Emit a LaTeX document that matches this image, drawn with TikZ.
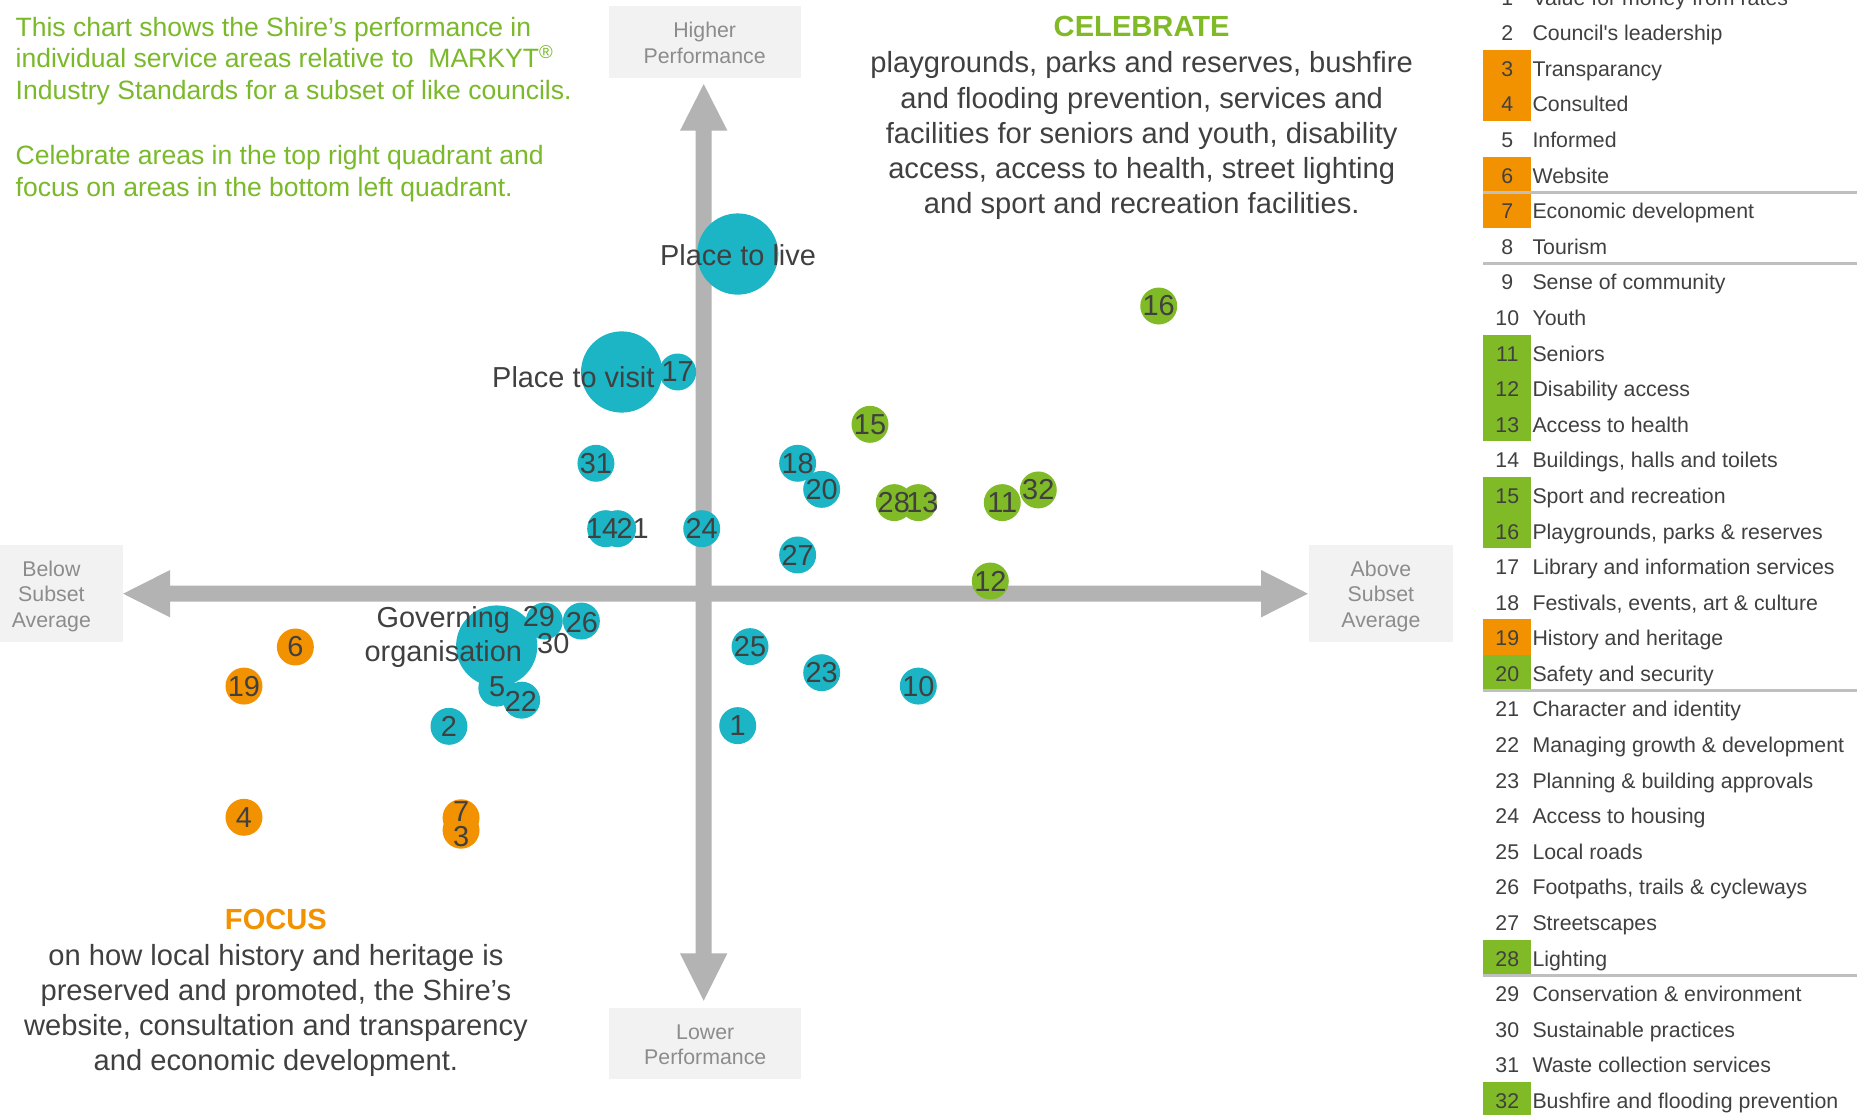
\documentclass[tikz,border=0pt]{standalone}
\usepackage{fontspec}
\setmainfont{Liberation Sans}
\newfontfamily\legfont[Ligatures=TeXOff]{Liberation Sans}
\definecolor{bteal}{RGB}{27,181,197}
\definecolor{bgreen}{RGB}{128,186,39}
\definecolor{borange}{RGB}{243,146,0}
\definecolor{introgreen}{RGB}{122,185,41}
\definecolor{axisgray}{RGB}{179,179,179}
\definecolor{boxfill}{RGB}{242,242,242}
\definecolor{boxtext}{RGB}{140,140,140}
\definecolor{dtext}{RGB}{64,64,64}
\definecolor{sepgray}{RGB}{191,191,191}
\tikzset{
  bub/.style={circle, inner sep=0pt, minimum size=15.6pt, draw=none},
  bigbub/.style={circle, inner sep=0pt, minimum size=34.3pt, fill=bteal, draw=none},
  numlbl/.style={inner sep=0pt, text=dtext, font=\fontsize{12.2}{14.6}\selectfont},
  bigl/.style={inner sep=0pt, text=dtext, font=\fontsize{12.2}{14.6}\selectfont, anchor=base},
  intro/.style={inner sep=0pt, text=introgreen, font=\fontsize{11.2}{13.5}\selectfont, anchor=base west},
  headtxt/.style={inner sep=0pt, font=\bfseries\fontsize{12.3}{14.7}\selectfont, anchor=base},
  bodytxt/.style={inner sep=0pt, text=dtext, font=\fontsize{12.3}{14.7}\selectfont, anchor=base},
  axbox/.style={fill=boxfill, draw=none, inner sep=0pt},
  axlbl/.style={inner sep=0pt, text=boxtext, font=\fontsize{9}{10.8}\selectfont, anchor=base},
  legnum/.style={inner sep=0pt, text=dtext, font=\legfont\fontsize{9}{10.8}\selectfont, anchor=base},
  legtxt/.style={inner sep=0pt, text=dtext, font=\legfont\fontsize{9}{10.8}\selectfont, anchor=base west},
  sepline/.style={draw=sepgray, line width=1.1pt},
}
\begin{document}
\begin{tikzpicture}[x=0.5pt,y=-0.5pt]
\useasboundingbox (0,0) rectangle (1568,941);
\begin{scope}
\clip (0,0) rectangle (1568,941);
\fill[white] (0,0) rectangle (1568,941);

% axes
\fill[axisgray] (104,501.3) -- (143.6,481.3) -- (143.6,494.55) -- (1064.8,494.55) -- (1064.8,481.3) -- (1104.3,501.3) -- (1064.8,521.3) -- (1064.8,508.05) -- (143.6,508.05) -- (143.6,521.3) -- cycle;
\fill[axisgray] (594.2,71) -- (614.2,110.3) -- (600.95,110.3) -- (600.95,805) -- (614.2,805) -- (594.2,845) -- (574.2,805) -- (587.45,805) -- (587.45,110.3) -- (574.2,110.3) -- cycle;

% axis label boxes
\node[axbox, minimum width=81pt, minimum height=30.25pt] (hibox) at (595,35.35) {};
\node[axbox, minimum width=81pt, minimum height=30.25pt] (lobox) at (595.5,881.15) {};
\node[axbox, minimum width=61pt, minimum height=40.8pt] (bebox) at (43,501) {};
\node[axbox, minimum width=61pt, minimum height=40.8pt] (abbox) at (1166,501) {};
\node[axlbl] (hi1) at (595,31.3) {Higher};
\node[axlbl] (hi2) at (595,53.3) {Performance};
\node[axlbl] (lo1) at (595.5,877.8) {Lower};
\node[axlbl] (lo2) at (595.5,899.2) {Performance};
\node[axlbl] (be1) at (43.4,486.9) {Below};
\node[axlbl] (be2) at (43.4,508.2) {Subset};
\node[axlbl] (be3) at (43.4,529.5) {Average};
\node[axlbl] (ab1) at (1166,486.9) {Above};
\node[axlbl] (ab2) at (1166,508.2) {Subset};
\node[axlbl] (ab3) at (1166,529.5) {Average};

% small bubbles
\foreach \n/\x/\y/\c in {
  1/622.9/612.7/bteal, 2/379.1/613.3/bteal, 5/419.5/581/bteal, 10/775.4/579.3/bteal,
  14/511.4/446.4/bteal, 17/572.2/314.1/bteal, 18/673.5/391.2/bteal, 20/693.8/413.2/bteal,
  21/521.5/446.4/bteal, 22/440.5/591.2/bteal, 23/693.8/568/bteal, 24/592.5/446.4/bteal,
  25/633.3/546/bteal, 26/490.9/524.4/bteal, 27/673.5/468.6/bteal, 29/459.6/524.4/bteal,
  31/503.2/391.2/bteal,
  11/846.3/424.4/bgreen, 12/836.2/490.6/bgreen, 13/775.4/424.4/bgreen, 15/734.6/358.3/bgreen,
  16/978.4/258.4/bgreen, 28/755.1/424.4/bgreen, 32/876.7/413.7/bgreen,
  3/389.3/701/borange, 4/206/690.1/borange, 6/249.4/546.3/borange, 7/389.3/690.5/borange,
  19/206/579.3/borange}
  \node[bub, fill=\c] (b\n) at (\x,\y) {};

% large bubbles
\node[bigbub] (live) at (622.9,214.5) {};
\node[bigbub] (visit) at (524.9,314.1) {};
\node[bigbub] (gov) at (419.4,545.5) {};

% bubble labels
\foreach \n/\x/\y in {
  1/622.9/612.7, 2/379.1/613.6, 3/389.3/706.5, 4/206/690.1, 5/419.7/579.8, 6/249.4/546.3,
  7/389.3/685.4, 10/775.4/579.3, 11/846.3/424.4, 12/836.2/490.6, 13/778.9/424.4,
  14/508.4/446.4, 15/734.6/358.3, 16/978.4/258.4, 17/572.2/314.1, 18/673.5/391.2,
  19/206/579.3, 20/693.8/413.2, 21/534.2/446.4, 22/439.9/591.9, 23/693.8/568,
  24/592.5/446.4, 25/633.3/546, 26/491.4/525.8, 27/673.5/468.6, 28/754.7/424.4,
  29/455.1/520.4, 30/467.2/543, 31/503.2/391.2, 32/876.7/413.7}
  \node[numlbl] (l\n) at (\x,\y) {\n};

\node[bigl] (livel) at (623.2,223.8) {Place to live};
\node[bigl] (visitl) at (484.1,327.5) {Place to visit};
\node[bigl] (govl1) at (374.3,530) {Governing};
\node[bigl] (govl2) at (374.3,558.2) {organisation};

% intro text
\node[intro] (in1) at (12.8,30.6) {This chart shows the Shire’s performance in};
\node[intro] (in2) at (12.8,57.4) {individual service areas relative to\ \ MARKYT\textsuperscript{®}};
\node[intro] (in3) at (12.8,84.3) {Industry Standards for a subset of like councils.};
\node[intro] (in4) at (12.8,139.3) {Celebrate areas in the top right quadrant and};
\node[intro] (in5) at (12.8,166) {focus on areas in the bottom left quadrant.};

% celebrate block
\node[headtxt, text=bgreen] (celh) at (964,31) {CELEBRATE};
\node[bodytxt] (cel1) at (964,61.5) {playgrounds, parks and reserves, bushfire};
\node[bodytxt] (cel2) at (964,91.3) {and flooding prevention, services and};
\node[bodytxt] (cel3) at (964,121.1) {facilities for seniors and youth, disability};
\node[bodytxt] (cel4) at (964,150.8) {access, access to health, street lighting};
\node[bodytxt] (cel5) at (964,180.6) {and sport and recreation facilities.};

% focus block
\node[headtxt, text=borange] (foch) at (233,785) {FOCUS};
\node[bodytxt] (foc1) at (233,814.9) {on how local history and heritage is};
\node[bodytxt] (foc2) at (233,844.8) {preserved and promoted, the Shire’s};
\node[bodytxt] (foc3) at (233,874.7) {website, consultation and transparency};
\node[bodytxt] (foc4) at (233,904.3) {and economic development.};

% legend
\foreach \n in {3,4,6,7,19}
  \fill[borange] (1252.2,{42.2+(\n-3)*30.05}) rectangle (1292.7,{42.2+(\n-2)*30.05});
\foreach \n in {11,12,13,15,16,20,28,32}
  \fill[bgreen] (1252.2,{42.2+(\n-3)*30.05}) rectangle (1292.7,{42.2+(\n-2)*30.05});
\foreach \n in {7,9,21,29}
  \draw[sepline] (1252.2,{42.2+(\n-3)*30.05}) -- (1570,{42.2+(\n-3)*30.05});
\foreach \n/\t in {
  1/Value for money from rates, 2/Council's leadership, 3/Transparancy, 4/Consulted,
  5/Informed, 6/Website, 7/Economic development, 8/Tourism, 9/Sense of community,
  10/Youth, 11/Seniors, 12/Disability access, 13/Access to health,
  14/{Buildings, halls and toilets}, 15/Sport and recreation,
  16/{Playgrounds, parks \& reserves}, 17/Library and information services,
  18/{Festivals, events, art \& culture}, 19/History and heritage,
  20/Safety and security, 21/Character and identity,
  22/Managing growth \& development, 23/Planning \& building approvals,
  24/Access to housing, 25/Local roads, 26/{Footpaths, trails \& cycleways},
  27/Streetscapes, 28/Lighting, 29/Conservation \& environment,
  30/Sustainable practices, 31/Waste collection services,
  32/Bushfire and flooding prevention}
{
  \pgfmathsetmacro\yb{57.2+(\n-3)*30.05+7.3}
  \node[legnum] (n\n) at (1272.7,\yb) {\n};
  \node[legtxt] (t\n) at (1293.6,\yb) {\t};
}
\end{scope}
\end{tikzpicture}
\end{document}
